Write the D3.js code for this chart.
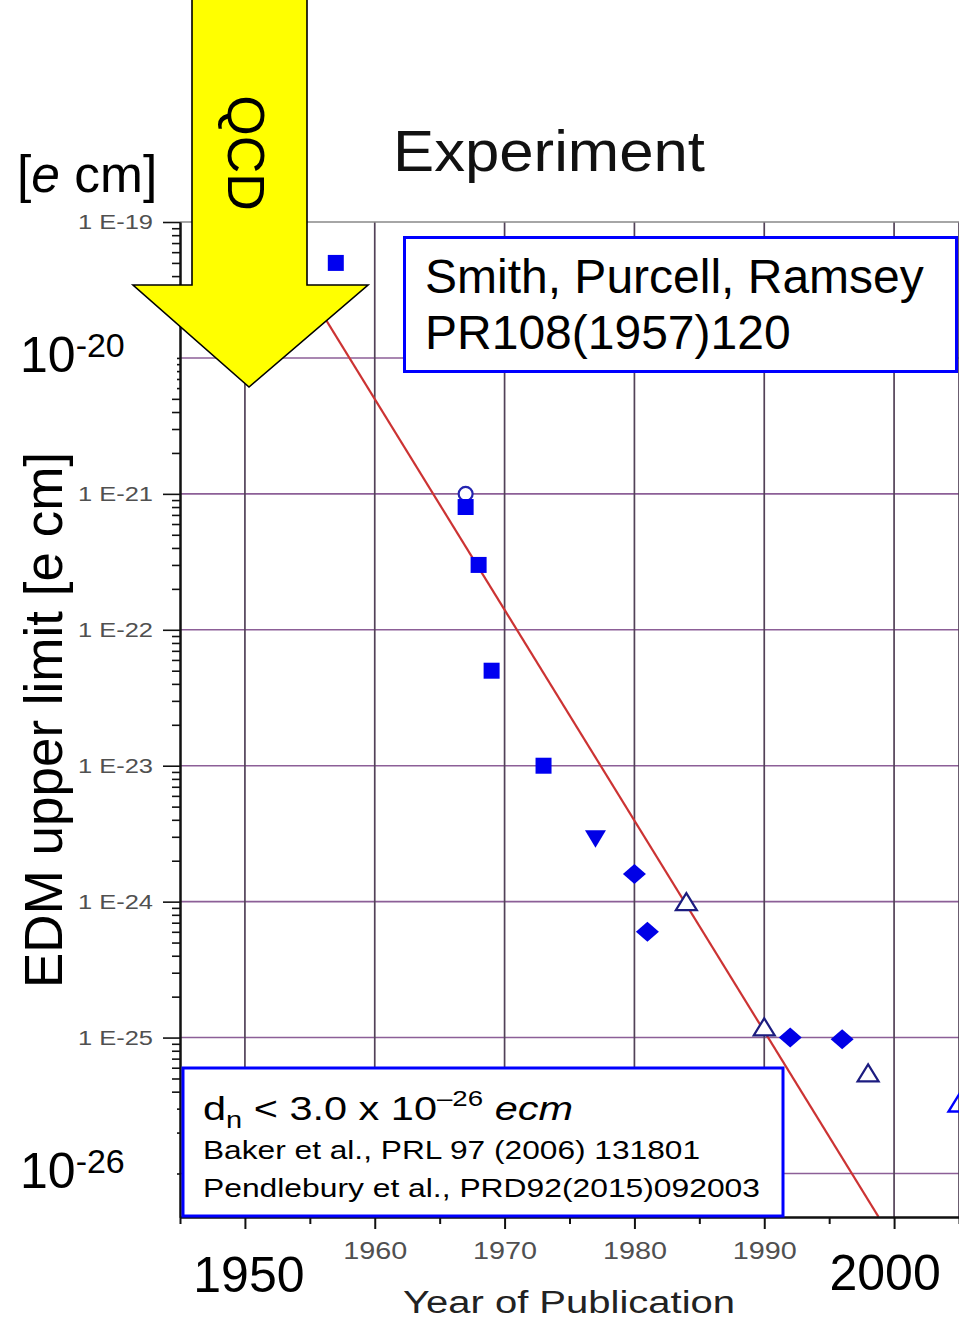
<!DOCTYPE html>
<html>
<head>
<meta charset="utf-8">
<script src="https://cdn.jsdelivr.net/npm/d3@7"></script>
<style>
  html, body { margin: 0; padding: 0; background: #fff; }
  svg { display: block; font-family: "Liberation Sans", Arial, Helvetica, sans-serif; }
</style>
</head>
<body>
<svg id="chart" width="959" height="1320"></svg>
<script>
// ---------------- data ----------------
const squareYears  = [1957, 1967, 1968, 1969, 1973];
const squareVals   = [5e-20, 8e-22, 3e-22, 5e-23, 1e-23];
const circleYears  = [1967];
const circleVals   = [1e-21];
const downTriYears = [1977];
const downTriVals  = [2.9e-24];
const diamondYears = [1980, 1981, 1992, 1996];
const diamondVals  = [1.6e-24, 6e-25, 1e-25, 9.7e-26];
const openTriYears = [1984, 1990, 1998];
const openTriVals  = [1e-24, 1.2e-25, 5.5e-26];
const recentYears  = [2005];
const recentVals   = [3.3e-26];
const trendYears   = [1951.6, 1998.8];
const trendVals    = [1e-19, 4.8e-27];

const majorYearTicks = [1950, 1960, 1970, 1980, 1990, 2000];
const minorYearTicks = [1945, 1955, 1965, 1975, 1985, 1995, 2005];
const yDecades = [1e-19, 1e-20, 1e-21, 1e-22, 1e-23, 1e-24, 1e-25, 1e-26];
const yLabelDecades = [1e-19, 1e-21, 1e-22, 1e-23, 1e-24, 1e-25];
const smithLines = ["Smith, Purcell, Ramsey", "PR108(1957)120"];
const refLines = ["Baker et al., PRL 97 (2006) 131801", "Pendlebury et al., PRD92(2015)092003"];

// ---------------- setup ----------------
const svg = d3.select("#chart");
svg.append("rect").attr("width", 959).attr("height", 1320).attr("fill", "#fff");

const x = d3.scaleLinear().domain([1945, 2005]).range([180, 959]);
const y = d3.scaleLog().domain([1e-19, Math.pow(10, -26.32)]).range([222, 1217]);
const [x0, x1] = x.range();
const [y0, y1] = y.range();

svg.append("defs").append("clipPath").attr("id", "plotclip")
  .append("rect").attr("x", x0).attr("y", y0).attr("width", x1 - x0).attr("height", y1 - y0);

// ---------------- grid ----------------
const grid = svg.append("g");
grid.selectAll("line.h").data(yDecades.slice(1)).join("line")
  .attr("x1", x0).attr("x2", x1)
  .attr("y1", d => y(d)).attr("y2", d => y(d))
  .attr("stroke", "#8c5f97").attr("stroke-width", 1.6);
grid.selectAll("line.v").data(majorYearTicks.concat([2005])).join("line")
  .attr("x1", d => x(d)).attr("x2", d => x(d))
  .attr("y1", y0).attr("y2", y1)
  .attr("stroke", "#524258").attr("stroke-width", 1.7);
grid.append("line").attr("x1", x0).attr("x2", x1).attr("y1", y0).attr("y2", y0)
  .attr("stroke", "#888").attr("stroke-width", 1.6);

// ---------------- trend line ----------------
const trend = trendYears.map((t, i) => [t, trendVals[i]]);
svg.append("path").datum(trend)
  .attr("clip-path", "url(#plotclip)")
  .attr("d", d3.line().x(d => x(d[0])).y(d => y(d[1])))
  .attr("fill", "none").attr("stroke", "#cc3333").attr("stroke-width", 2.2);

// ---------------- markers ----------------
const shapes = {
  square: "M-8,-8h16v16h-16Z",
  downTri: "M-10.5,-8.5L10.5,-8.5L0,9Z",
  diamond: "M0,-10L11.5,0L0,10L-11.5,0Z",
  upTri: "M0,-8.5L10.5,8.5L-10.5,8.5Z"
};
function drawSeries(years, vals, shape, fill, stroke, sw) {
  const pts = years.map((t, i) => [t, vals[i]]);
  const g = svg.append("g").attr("clip-path", "url(#plotclip)");
  if (shape === "circle") {
    g.selectAll("circle").data(pts).join("circle")
      .attr("cx", d => x(d[0])).attr("cy", d => y(d[1])).attr("r", 7)
      .attr("fill", fill).attr("stroke", stroke).attr("stroke-width", sw);
  } else {
    g.selectAll("path").data(pts).join("path")
      .attr("transform", d => `translate(${x(d[0])},${y(d[1])})`)
      .attr("d", shapes[shape])
      .attr("fill", fill).attr("stroke", stroke).attr("stroke-width", sw);
  }
}
drawSeries(circleYears, circleVals, "circle", "#fff", "#2424b0", 2.2);
drawSeries(squareYears, squareVals, "square", "#0000f0", "none", 0);
drawSeries(downTriYears, downTriVals, "downTri", "#0000e6", "none", 0);
drawSeries(diamondYears, diamondVals, "diamond", "#0000e6", "none", 0);
drawSeries(openTriYears, openTriVals, "upTri", "#fff", "#1c1c80", 2.2);
drawSeries(recentYears, recentVals, "upTri", "none", "#0000ff", 2.4);

// ---------------- axes ----------------
const minorVals = [];
for (let e = -26; e <= -20; e++) for (let k = 2; k <= 9; k++) {
  const v = k * Math.pow(10, e);
  if (v >= y.domain()[1] && v <= 1e-19) minorVals.push(v);
}
const yMinor = svg.append("g").attr("transform", `translate(${x0},0)`)
  .call(d3.axisLeft(y).tickValues(minorVals).tickSize(8).tickSizeOuter(0).tickFormat(""));
const yMajor = svg.append("g").attr("transform", `translate(${x0},0)`)
  .call(d3.axisLeft(y).tickValues(yDecades).tickSize(17).tickSizeOuter(0).tickPadding(10)
    .tickFormat(d => yLabelDecades.includes(d) ? "1 E" + Math.round(Math.log10(d)) : ""));
[yMinor, yMajor].forEach(g => {
  g.selectAll(".tick line").attr("stroke", "#111").attr("stroke-width", 1.6);
  g.select(".domain").attr("stroke", "#111").attr("stroke-width", 2);
});
yMajor.selectAll(".tick text")
  .attr("font-size", 20.5).attr("fill", "#505050")
  .attr("font-family", "'Liberation Sans', Arial, sans-serif")
  .filter(function () { return this.textContent !== ""; })
  .attr("textLength", 75).attr("lengthAdjust", "spacingAndGlyphs");

const xMinor = svg.append("g").attr("transform", `translate(0,${y1})`)
  .call(d3.axisBottom(x).tickValues(minorYearTicks).tickSize(7).tickSizeOuter(0).tickFormat(""));
const xMajor = svg.append("g").attr("transform", `translate(0,${y1})`)
  .call(d3.axisBottom(x).tickValues(majorYearTicks).tickSize(12).tickSizeOuter(0).tickPadding(14)
    .tickFormat(d => (d === 1950 || d === 2000) ? "" : String(d)));
[xMinor, xMajor].forEach(g => {
  g.selectAll(".tick line").attr("stroke", "#111").attr("stroke-width", 2);
  g.select(".domain").attr("stroke", "#111").attr("stroke-width", 2);
});
xMajor.selectAll(".tick text")
  .attr("font-size", 23).attr("fill", "#505050")
  .attr("font-family", "'Liberation Sans', Arial, sans-serif")
  .filter(function () { return this.textContent !== ""; })
  .attr("textLength", 64).attr("lengthAdjust", "spacingAndGlyphs");

// ---------------- white label patches + big labels ----------------
function powerLabel(val, sup) {
  const cy = y(val);
  svg.append("rect").attr("x", 0).attr("y", cy - 70).attr("width", 177).attr("height", 108).attr("fill", "#fff");
  const t = svg.append("text").attr("x", 20).attr("y", cy + 14)
    .attr("font-size", 50).attr("fill", "#000");
  t.append("tspan").text("10");
  t.append("tspan").attr("font-size", 34).attr("dy", -15).text(sup);
}
powerLabel(1e-20, "-20");
powerLabel(1e-26, "-26");

svg.append("text").attr("x", x(1950) + 4).attr("y", 1292).attr("text-anchor", "middle")
  .attr("font-size", 50).attr("fill", "#000").text("1950");
svg.append("text").attr("x", x(2000) - 9).attr("y", 1290).attr("text-anchor", "middle")
  .attr("font-size", 50).attr("fill", "#000").text("2000");

svg.append("text").attr("x", 403).attr("y", 1313)
  .attr("font-size", 31).attr("fill", "#222")
  .attr("textLength", 332).attr("lengthAdjust", "spacingAndGlyphs")
  .text("Year of Publication");

svg.append("text").attr("transform", "translate(62,720) rotate(-90)")
  .attr("text-anchor", "middle").attr("font-size", 53).attr("fill", "#000")
  .text("EDM upper limit [e cm]");

const ecm = svg.append("text").attr("x", 17).attr("y", 192).attr("font-size", 51.5).attr("fill", "#000");
ecm.append("tspan").text("[");
ecm.append("tspan").attr("font-style", "italic").text("e");
ecm.append("tspan").text(" cm]");

svg.append("text").attr("x", 393).attr("y", 171)
  .attr("font-size", 58).attr("fill", "#111")
  .attr("textLength", 312).attr("lengthAdjust", "spacingAndGlyphs")
  .text("Experiment");

// ---------------- Smith box ----------------
svg.append("rect").attr("x", 404.5).attr("y", 237.5).attr("width", 552).attr("height", 134)
  .attr("fill", "#fff").attr("stroke", "#0000ff").attr("stroke-width", 3);
svg.selectAll("text.smith").data(smithLines).join("text").attr("class", "smith")
  .attr("x", 425).attr("y", (d, i) => 293 + i * 56)
  .attr("font-size", 48).attr("fill", "#000").text(d => d);

// ---------------- Result box ----------------
svg.append("rect").attr("x", 183).attr("y", 1068).attr("width", 600).attr("height", 148)
  .attr("fill", "#fff").attr("stroke", "#0000ff").attr("stroke-width", 3);
const r1 = svg.append("text").attr("x", 203).attr("y", 1120)
  .attr("font-size", 33).attr("fill", "#000")
  .attr("textLength", 370).attr("lengthAdjust", "spacingAndGlyphs");
r1.append("tspan").text("d");
r1.append("tspan").attr("font-size", 23).attr("dy", 8).text("n");
r1.append("tspan").attr("dy", -8).text(" < 3.0 x 10");
r1.append("tspan").attr("font-size", 22).attr("dy", -14).text("\u201326");
r1.append("tspan").attr("dy", 14).text(" ");
r1.append("tspan").attr("font-style", "italic").text("ecm");

svg.selectAll("text.ref").data(refLines).join("text").attr("class", "ref")
  .attr("x", 203).attr("y", (d, i) => 1159 + i * 38)
  .attr("font-size", 26).attr("fill", "#000")
  .attr("textLength", (d, i) => i === 0 ? 497 : 557).attr("lengthAdjust", "spacingAndGlyphs")
  .text(d => d);

// ---------------- QCD arrow ----------------
svg.append("path")
  .attr("d", "M192,-5L307,-5L307,285L368,285L249,387L133,285L192,285Z")
  .attr("fill", "#ffff00").attr("stroke", "#000").attr("stroke-width", 1.6)
  .attr("stroke-linejoin", "miter");
svg.append("text").attr("transform", "translate(228,153) rotate(90)")
  .attr("text-anchor", "middle").attr("font-size", 52).attr("fill", "#000")
  .text("QCD");
</script>
</body>
</html>
